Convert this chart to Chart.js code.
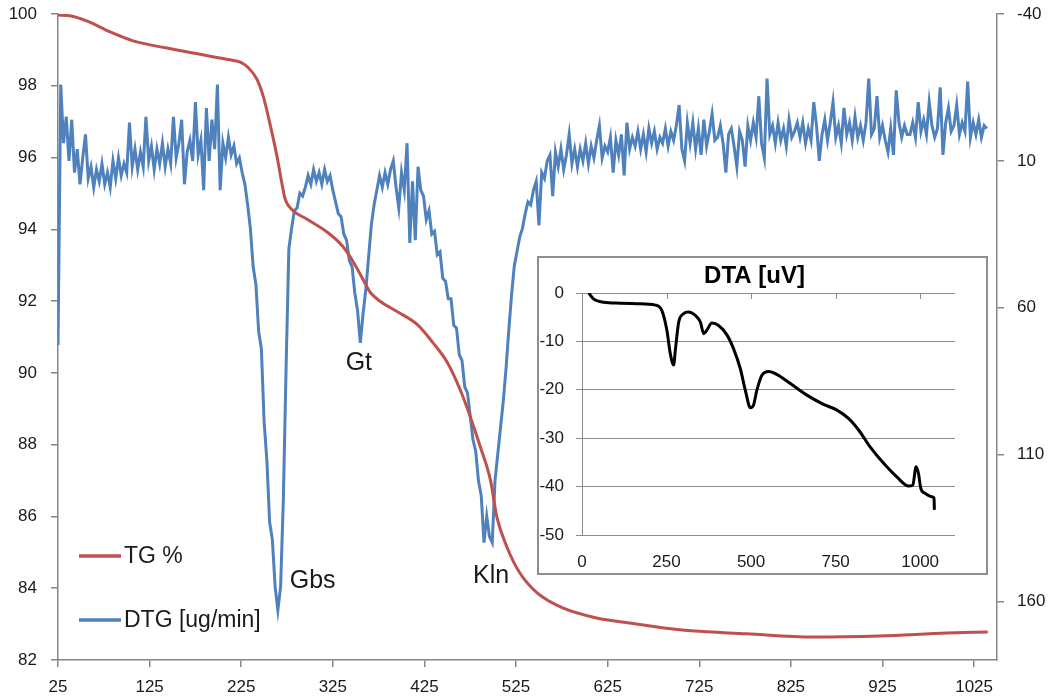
<!DOCTYPE html>
<html><head><meta charset="utf-8">
<script src="https://cdn.jsdelivr.net/npm/chart.js@4.4.1/dist/chart.umd.min.js"></script>
<style>
html,body{margin:0;padding:0;background:#fff;}
#wrap{position:relative;width:1050px;height:697px;overflow:hidden;}
#main{position:absolute;left:0;top:0;}
#inset{position:absolute;left:537px;top:256px;width:451px;height:319px;border:2px solid #8e8e8e;box-sizing:border-box;background:#fff;}
#dta{display:block;}
</style></head><body>
<div id="wrap">
<canvas id="main" width="1050" height="697"></canvas>
<div id="inset"><canvas id="dta" width="447" height="315"></canvas></div>
</div>
<script>
// ---------- data ----------
const xTickValues = [25,125,225,325,425,525,625,725,825,925,1025];
const rightTickValues = [-40,10,60,110,160];

const tgTemp = [25,38,57,82,107,144,180,209,224,232,242,249,256,264,270,273,280,297,319,336,349,358,366,377,395,417,434,450,464,475,486,497,504,515,529,548,576,613,649,704,777,849,922,995,1040];
const tgValues = [99.97,99.95,99.8,99.5,99.25,99.05,98.88,98.74,98.66,98.52,98.19,97.71,96.98,96.04,95.2,94.84,94.56,94.28,93.92,93.52,93.02,92.6,92.24,91.99,91.71,91.35,90.85,90.29,89.53,88.78,87.94,87.02,85.99,85.15,84.43,83.87,83.45,83.17,83.03,82.84,82.73,82.64,82.67,82.75,82.78];

// DTG sampled every 3 °C starting at 25 °C
const dtgStart = 25, dtgStep = 3;
const dtgValues = [
72.7,-16,4,-5,10,-4,14,6,18,9,
1,16,12,19,13,17,11,18,14,19,
10,16,9,15,11,14,-3,12,6,13,
7,12,-5,10,5,13,6,11,4,12,
6,11,-5,9,4,-4,18,7,3,10,
-10,8,3,20,-8,10,-4,6,-16,20,
4,9,2,8,5,11,9,14,18,25,
33,46,52,68,74,99,112,133,139,155,
163,155,125,80,40,33,27,26,21,22,
19,15,18,13,17,14,18,13,17,15,
20,24,28,29,35,37,44,46,55,61,
72,62,54,43,32,25,20,15,19,14,
18,13,10,19,26,14,20,4,38,17,
37,12,20,22,30,27,35,34,42,41,
50,51,57,57,66,67,76,78,87,89,
97,105,109,119,124,140,131,138,140,119,
110,101,92,81,68,56,46,41,36,33,
28,24,25,20,17,32,14,16,10,8,
22,7,12,6,13,8,1,11,6,12,
6,10,4,11,5,9,3,-2,9,5,
7,2,14,3,8,1,15,-3,6,2,
5,0,6,1,7,-1,4,0,6,2,
4,-1,5,0,3,-2,-9,6,10,-3,
4,-3,6,-1,8,-4,5,0,-6,3,
2,-2,4,14,1,-1,5,12,0,3,
12,-2,3,-3,2,-12,4,9,-18,1,
-2,4,-3,3,-1,5,-4,2,0,-3,
2,-3,4,-1,3,-10,-2,10,1,-4,
3,-3,-10,2,-2,4,-8,1,-3,3,
-5,2,-2,3,-3,-18,1,-1,-12,2,
-2,3,7,-1,8,-14,-3,2,-2,1,
1,-3,2,-10,0,-4,1,-10,-2,2,
-1,-15,8,-3,-8,0,-2,-9,1,-3,
0,-17,2,-3,1,-4,2,-2,-1
];

const peakLabels = ['Gbs','Gt','Kln'];
const peakTemps = [278,339,478];
const peakLevels = [84.0,90.09,84.15];

const dtaTemp = [20,34,64,113,163,217,236,251,261,271,276,286,300,315,335,350,360,369,384,404,429,448,468,483,498,507,517,532,552,576,616,665,714,754,788,818,852,892,931,966,978,988,995,1002,1015,1034,1041,1042];
const dtaValues = [0,-1.2,-1.9,-2.1,-2.2,-2.5,-3.6,-7.7,-12.5,-14.9,-11.8,-6,-4.3,-3.9,-4.6,-6,-8.4,-7.7,-6.2,-6.7,-8.7,-11.5,-15.6,-20.1,-23.7,-23.2,-20.1,-17,-16.2,-16.8,-18.7,-21.1,-23,-24.2,-25.9,-28.3,-31.8,-35.2,-38,-39.9,-39.7,-35.9,-37.3,-40.4,-41.4,-42.1,-42.4,-44.8];
const dtaXTicks = [0,250,500,750,1000];

// ---------- styling ----------
const FONT = "'Liberation Sans', Arial, sans-serif";
const TXT = '#1a1a1a';
const AXIS = '#868686';
const RED = '#C0504D';
const BLUE = '#4F81BD';
const plain = v => String(v);

const dtgTemp = dtgValues.map((_, i) => dtgStart + dtgStep * i);

const legendPlugin = {
  id: 'insideLegend',
  afterDatasetsDraw(chart) {
    const { ctx, chartArea } = chart;
    const rows = [chartArea.bottom - 104, chartArea.bottom - 40];
    ctx.save();
    chart.data.datasets.forEach((ds, i) => {
      const y = rows[i];
      ctx.strokeStyle = ds.borderColor;
      ctx.lineWidth = 3.5;
      ctx.beginPath();
      ctx.moveTo(chartArea.left + 21, y);
      ctx.lineTo(chartArea.left + 63, y);
      ctx.stroke();
      ctx.fillStyle = TXT;
      ctx.font = "23px " + FONT;
      ctx.textBaseline = 'middle';
      ctx.textAlign = 'left';
      ctx.fillText(ds.label, chartArea.left + 66, y + 1);
    });
    ctx.restore();
  }
};

const peakPlugin = {
  id: 'peakLabels',
  afterDatasetsDraw(chart) {
    const { ctx, scales } = chart;
    ctx.save();
    ctx.fillStyle = TXT;
    ctx.font = "25px " + FONT;
    ctx.textAlign = 'left';
    ctx.textBaseline = 'alphabetic';
    peakLabels.forEach((t, i) => {
      ctx.fillText(t, scales.x.getPixelForValue(peakTemps[i]), scales.y.getPixelForValue(peakLevels[i]));
    });
    ctx.restore();
  }
};

const tickFont = { family: FONT, size: 17 };
const noPadV = s => { s.paddingTop = 0; s.paddingBottom = 0; };

new Chart(document.getElementById('main'), {
  type: 'line',
  data: {
    datasets: [
      { label: 'TG %', data: tgTemp.map((t, i) => ({ x: t, y: tgValues[i] })), yAxisID: 'y',
        borderColor: RED, borderWidth: 3, pointRadius: 0, cubicInterpolationMode: 'monotone' },
      { label: 'DTG [ug/min]', data: dtgTemp.map((t, i) => ({ x: t, y: dtgValues[i] })), yAxisID: 'y2',
        borderColor: BLUE, borderWidth: 3, pointRadius: 0, tension: 0 }
    ]
  },
  options: {
    responsive: false, animation: false, devicePixelRatio: 1,
    layout: { padding: { top: 14, left: 0, right: 0, bottom: 0 } },
    plugins: { legend: { display: false }, tooltip: { enabled: false }, title: { display: false } },
    scales: {
      x: {
        type: 'linear', min: 25, max: 1050,
        afterBuildTicks: s => { s.ticks = xTickValues.map(v => ({ value: v })); },
        afterFit: s => { s.height = 37; s.paddingLeft = 0; s.paddingRight = 0; },
        grid: { drawOnChartArea: false, drawTicks: true, tickLength: 7, color: AXIS, lineWidth: 1.5 },
        border: { color: AXIS, width: 1.5 },
        ticks: { font: tickFont, color: TXT, padding: 10, maxRotation: 0, autoSkip: false, callback: plain }
      },
      y: {
        position: 'left', min: 82, max: 100,
        ticks: { stepSize: 2, font: tickFont, color: TXT, padding: 14, callback: plain },
        afterFit: s => { s.width = 58; noPadV(s); },
        grid: { drawOnChartArea: false, drawTicks: true, tickLength: 7, color: AXIS, lineWidth: 1.5 },
        border: { color: AXIS, width: 1.5 }
      },
      y2: {
        position: 'right', reverse: true, min: -40, max: 180,
        afterBuildTicks: s => { s.ticks = rightTickValues.map(v => ({ value: v })); },
        ticks: { font: tickFont, color: TXT, padding: 13, callback: plain },
        afterFit: s => { s.width = 53; noPadV(s); },
        grid: { drawOnChartArea: false, drawTicks: true, tickLength: 7, color: AXIS, lineWidth: 1.5 },
        border: { color: AXIS, width: 1.5 }
      }
    }
  },
  plugins: [legendPlugin, peakPlugin]
});

// ---------- inset DTA ----------
const dtaTitlePlugin = {
  id: 'dtaTitle',
  afterDraw(chart) {
    const { ctx } = chart;
    ctx.save();
    ctx.fillStyle = '#000';
    ctx.font = "bold 24px " + FONT;
    ctx.textAlign = 'center';
    ctx.textBaseline = 'alphabetic';
    ctx.fillText('DTA [uV]', chart.width / 2 - 8, 25);
    ctx.restore();
  }
};
const dtaAxisTicks = {
  id: 'dtaAxisTicks',
  beforeDatasetsDraw(chart) {
    const { ctx, scales: { x, y } } = chart;
    const y0 = y.getPixelForValue(0);
    ctx.save();
    ctx.strokeStyle = '#8c8c8c';
    ctx.lineWidth = 1;
    dtaXTicks.forEach(v => {
      if (v === 0) return;
      const px = Math.round(x.getPixelForValue(v)) + 0.5;
      ctx.beginPath(); ctx.moveTo(px, y0); ctx.lineTo(px, y0 + 6); ctx.stroke();
    });
    ctx.restore();
  }
};

new Chart(document.getElementById('dta'), {
  type: 'line',
  data: {
    datasets: [{ label: 'DTA [uV]', data: dtaTemp.map((t, i) => ({ x: t, y: dtaValues[i] })),
      borderColor: '#000', borderWidth: 3, pointRadius: 0, cubicInterpolationMode: 'monotone' }]
  },
  options: {
    responsive: false, animation: false, devicePixelRatio: 1,
    layout: { padding: { top: 35, right: 31, left: 0, bottom: 0 } },
    plugins: { legend: { display: false }, tooltip: { enabled: false } },
    scales: {
      x: {
        type: 'linear', min: 0, max: 1103,
        afterBuildTicks: s => { s.ticks = dtaXTicks.map(v => ({ value: v })); },
        afterFit: s => { s.height = 38; },
        grid: { display: false, drawTicks: false }, border: { display: false },
        ticks: { font: tickFont, color: TXT, padding: 17, maxRotation: 0, autoSkip: false, callback: plain }
      },
      y: {
        min: -50, max: 0,
        ticks: { stepSize: 10, font: tickFont, color: TXT, padding: 12, callback: plain },
        afterFit: s => { s.width = 43; },
        grid: { color: '#8c8c8c', tickLength: 6, drawTicks: true },
        border: { color: '#8c8c8c' }
      }
    }
  },
  plugins: [dtaAxisTicks, dtaTitlePlugin]
});
</script>
</body></html>
